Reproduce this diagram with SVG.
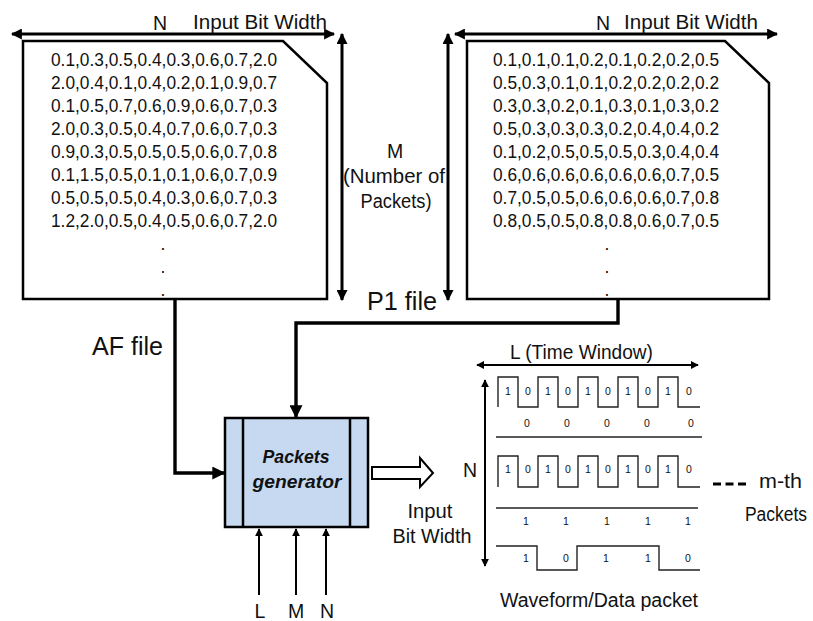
<svg xmlns="http://www.w3.org/2000/svg" width="813" height="621" viewBox="0 0 813 621">
<style>
text{font-family:"Liberation Sans",Arial,sans-serif;fill:#111}
.doc{fill:#fff;stroke:#000;stroke-width:2.5;stroke-linejoin:miter}
.data{font-size:17.5px}
.lbl{font-size:19.5px}
.big{font-size:26px}
.bit{font-family:"DejaVu Sans Mono",monospace;font-size:10.5px;fill:#222}
.dim{stroke:#000;stroke-width:3;fill:none}
.thin{stroke:#000;stroke-width:2;fill:none}
.wave{stroke:#222;stroke-width:1.4;fill:none}
.conn{stroke:#000;stroke-width:3.4;fill:none}
</style>
<defs>
<marker id="ah" viewBox="0 0 10 10" refX="9" refY="5" markerWidth="11" markerHeight="11" markerUnits="userSpaceOnUse" orient="auto-start-reverse">
<path d="M0,0 L10,5 L0,10 Z" fill="#000"/>
</marker>
<marker id="ahs" viewBox="0 0 10 10" refX="9" refY="5" markerWidth="8" markerHeight="8" markerUnits="userSpaceOnUse" orient="auto-start-reverse">
<path d="M0,0 L10,5 L0,10 Z" fill="#000"/>
</marker>
<marker id="ahc" viewBox="0 0 10 10" refX="9" refY="5" markerWidth="13" markerHeight="13" markerUnits="userSpaceOnUse" orient="auto">
<path d="M0,0 L10,5 L0,10 Z" fill="#000"/>
</marker>
</defs>

<g id="af-file">
<path class="doc" d="M23,41 L283,41 L327,83 L327,299 L23,299 Z"/>
<g class="data">
<text x="51" y="66" textLength="226" lengthAdjust="spacingAndGlyphs">0.1,0.3,0.5,0.4,0.3,0.6,0.7,2.0</text>
<text x="51" y="89" textLength="226" lengthAdjust="spacingAndGlyphs">2.0,0.4,0.1,0.4,0.2,0.1,0.9,0.7</text>
<text x="51" y="112" textLength="226" lengthAdjust="spacingAndGlyphs">0.1,0.5,0.7,0.6,0.9,0.6,0.7,0.3</text>
<text x="51" y="135" textLength="226" lengthAdjust="spacingAndGlyphs">2.0,0.3,0.5,0.4,0.7,0.6,0.7,0.3</text>
<text x="51" y="158" textLength="226" lengthAdjust="spacingAndGlyphs">0.9,0.3,0.5,0.5,0.5,0.6,0.7,0.8</text>
<text x="51" y="181" textLength="226" lengthAdjust="spacingAndGlyphs">0.1,1.5,0.5,0.1,0.1,0.6,0.7,0.9</text>
<text x="51" y="204" textLength="226" lengthAdjust="spacingAndGlyphs">0.5,0.5,0.5,0.4,0.3,0.6,0.7,0.3</text>
<text x="51" y="227" textLength="226" lengthAdjust="spacingAndGlyphs">1.2,2.0,0.5,0.4,0.5,0.6,0.7,2.0</text>
<text x="163" y="250" text-anchor="middle">.</text>
<text x="163" y="273" text-anchor="middle">.</text>
<text x="163" y="296" text-anchor="middle">.</text>
</g>
<line class="dim" x1="12" y1="34" x2="334" y2="34" marker-start="url(#ah)" marker-end="url(#ah)"/>
<text class="lbl" x="160" y="30" text-anchor="middle">N</text>
<text class="lbl" x="193" y="29" textLength="134" lengthAdjust="spacingAndGlyphs">Input Bit Width</text>
<line class="dim" x1="342" y1="34" x2="342" y2="300" marker-start="url(#ah)" marker-end="url(#ah)"/>
<text class="lbl" x="395" y="158" text-anchor="middle">M</text>
<text class="lbl" x="343" y="183" textLength="102" lengthAdjust="spacingAndGlyphs">(Number of</text>
<text class="lbl" x="396" y="208" text-anchor="middle" textLength="71" lengthAdjust="spacingAndGlyphs">Packets)</text>
<text class="big" x="92" y="355" textLength="71" lengthAdjust="spacingAndGlyphs">AF file</text>
</g>

<g id="p1-file">
<path class="doc" d="M467,41 L725,41 L769,83 L769,299 L467,299 Z"/>
<g class="data">
<text x="493" y="66" textLength="226" lengthAdjust="spacingAndGlyphs">0.1,0.1,0.1,0.2,0.1,0.2,0.2,0.5</text>
<text x="493" y="89" textLength="226" lengthAdjust="spacingAndGlyphs">0.5,0.3,0.1,0.1,0.2,0.2,0.2,0.2</text>
<text x="493" y="112" textLength="226" lengthAdjust="spacingAndGlyphs">0.3,0.3,0.2,0.1,0.3,0.1,0.3,0.2</text>
<text x="493" y="135" textLength="226" lengthAdjust="spacingAndGlyphs">0.5,0.3,0.3,0.3,0.2,0.4,0.4,0.2</text>
<text x="493" y="158" textLength="226" lengthAdjust="spacingAndGlyphs">0.1,0.2,0.5,0.5,0.5,0.3,0.4,0.4</text>
<text x="493" y="181" textLength="226" lengthAdjust="spacingAndGlyphs">0.6,0.6,0.6,0.6,0.6,0.6,0.7,0.5</text>
<text x="493" y="204" textLength="226" lengthAdjust="spacingAndGlyphs">0.7,0.5,0.5,0.6,0.6,0.6,0.7,0.8</text>
<text x="493" y="227" textLength="226" lengthAdjust="spacingAndGlyphs">0.8,0.5,0.5,0.8,0.8,0.6,0.7,0.5</text>
<text x="607" y="250" text-anchor="middle">.</text>
<text x="607" y="273" text-anchor="middle">.</text>
<text x="607" y="296" text-anchor="middle">.</text>
</g>
<line class="dim" x1="455" y1="34" x2="777" y2="34" marker-start="url(#ah)" marker-end="url(#ah)"/>
<text class="lbl" x="603" y="30" text-anchor="middle">N</text>
<text class="lbl" x="624" y="29" textLength="134" lengthAdjust="spacingAndGlyphs">Input Bit Width</text>
<line class="dim" x1="448" y1="34" x2="448" y2="300" marker-start="url(#ah)" marker-end="url(#ah)"/>
<text class="big" x="367" y="310" textLength="70" lengthAdjust="spacingAndGlyphs">P1 file</text>
</g>

<g id="connectors">
<path class="conn" d="M175,299 V473 H224" marker-end="url(#ahc)"/>
<path class="conn" d="M618,299 V323 H296 V417" marker-end="url(#ahc)"/>
<line class="thin" x1="259" y1="595" x2="259" y2="529" marker-end="url(#ahs)"/>
<line class="thin" x1="296" y1="595" x2="296" y2="529" marker-end="url(#ahs)"/>
<line class="thin" x1="326" y1="595" x2="326" y2="529" marker-end="url(#ahs)"/>
<polygon points="372,467 420,467 420,458 433,473 420,487 420,479 372,479" fill="#fff" stroke="#000" stroke-width="2" stroke-linejoin="miter"/>
</g>

<g id="packets-generator">
<rect x="225" y="418" width="143" height="109" fill="#c6d9f1" stroke="#000" stroke-width="2.5"/>
<line x1="243" y1="418" x2="243" y2="527" stroke="#000" stroke-width="2.5"/>
<line x1="350" y1="418" x2="350" y2="527" stroke="#000" stroke-width="2.5"/>
<text x="296" y="463" text-anchor="middle" font-size="19" font-weight="bold" font-style="italic" textLength="67" lengthAdjust="spacingAndGlyphs">Packets</text>
<text x="297" y="488" text-anchor="middle" font-size="19" font-weight="bold" font-style="italic" textLength="89" lengthAdjust="spacingAndGlyphs">generator</text>
<text class="lbl" x="260" y="618" text-anchor="middle">L</text>
<text class="lbl" x="296" y="618" text-anchor="middle">M</text>
<text class="lbl" x="327" y="618" text-anchor="middle">N</text>
<text class="lbl" x="430" y="518" text-anchor="middle" textLength="45" lengthAdjust="spacingAndGlyphs">Input</text>
<text class="lbl" x="432" y="543" text-anchor="middle" textLength="79" lengthAdjust="spacingAndGlyphs">Bit Width</text>
</g>

<g id="waveform">
<text class="lbl" x="510" y="359" textLength="143" lengthAdjust="spacingAndGlyphs">L (Time Window)</text>
<line class="thin" x1="477" y1="365" x2="698" y2="365" marker-start="url(#ahs)" marker-end="url(#ahs)"/>
<line class="thin" x1="485" y1="380" x2="485" y2="566" marker-start="url(#ahs)" marker-end="url(#ahs)"/>
<text class="lbl" x="470" y="477" text-anchor="middle">N</text>
<path class="wave" d="M498,407 V377 H518 V407 H538 V377 H558 V407 H578 V377 H598 V407 H618 V377 H638 V407 H658 V377 H678 V407 H700"/>
<g class="bit" text-anchor="middle">
<text x="508" y="395">1</text><text x="528" y="395">0</text><text x="548" y="395">1</text><text x="568" y="395">0</text><text x="588" y="395">1</text><text x="608" y="395">0</text><text x="628" y="395">1</text><text x="648" y="395">0</text><text x="668" y="395">1</text><text x="689" y="395">0</text>
<text x="527" y="427">0</text><text x="567" y="427">0</text><text x="607" y="427">0</text><text x="647" y="427">0</text><text x="691" y="427">0</text>
<text x="508" y="473">1</text><text x="528" y="473">0</text><text x="548" y="473">1</text><text x="568" y="473">0</text><text x="588" y="473">1</text><text x="608" y="473">0</text><text x="628" y="473">1</text><text x="648" y="473">0</text><text x="668" y="473">1</text><text x="689" y="473">0</text>
<text x="526" y="525">1</text><text x="566" y="525">1</text><text x="607" y="525">1</text><text x="648" y="525">1</text><text x="688" y="525">1</text>
<text x="526" y="562">1</text><text x="566" y="562">0</text><text x="606" y="562">1</text><text x="648" y="562">1</text><text x="688" y="562">0</text>
</g>
<line class="wave" x1="496" y1="437" x2="702" y2="437"/>
<path class="wave" d="M498,487 V456 H518 V487 H538 V456 H558 V487 H578 V456 H598 V487 H618 V456 H638 V487 H658 V456 H678 V487 H700"/>
<line class="wave" x1="496" y1="508" x2="698" y2="508"/>
<path class="wave" d="M496,546 H537 V570 H577 V546 H659 V570 H700"/>
<line x1="713" y1="484" x2="750" y2="484" stroke="#000" stroke-width="3" stroke-dasharray="8,4.5"/>
<text class="lbl" x="759" y="488" textLength="43" lengthAdjust="spacingAndGlyphs">m-th</text>
<text class="lbl" x="745" y="521" textLength="62" lengthAdjust="spacingAndGlyphs">Packets</text>
<text class="lbl" x="500" y="607" textLength="198" lengthAdjust="spacingAndGlyphs">Waveform/Data packet</text>
</g>
</svg>
